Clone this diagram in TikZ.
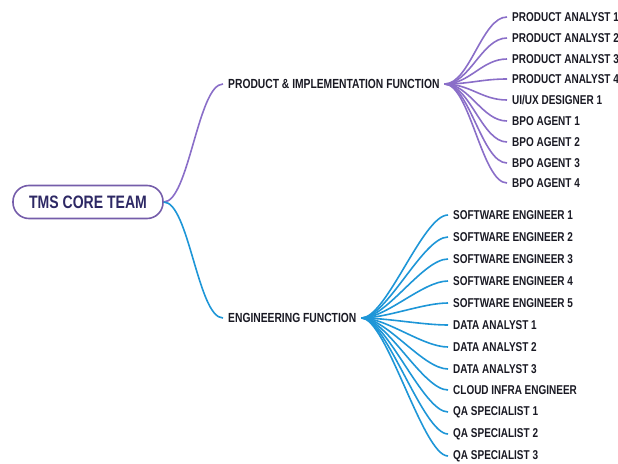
\documentclass[tikz,border=0pt]{standalone}
\usepackage{fontspec}
\setmainfont[FakeStretch=0.78]{Liberation Sans}
\usetikzlibrary{arrows}
\definecolor{lila}{RGB}{138,110,200}
\definecolor{azzurro}{RGB}{30,150,215}
\definecolor{inchiostro}{RGB}{25,25,35}
\definecolor{notte}{RGB}{45,40,100}

\begin{document}
\begin{tikzpicture}[x=1pt,y=-1pt]
\tikzstyle{radice} = [draw=lila!85!black, line width=1.6pt, rounded corners=16pt, minimum width=150pt, minimum height=33pt, text=notte, font=\bfseries\fontsize{18}{20}\selectfont]
\tikzstyle{voce} = [anchor=west, inner xsep=5pt, inner ysep=1pt, text=inchiostro, font=\bfseries\fontsize{12.8}{14}\selectfont]
\tikzstyle{ramo} = [line width=1.6pt, to path={.. controls +(25,0) and +(-25,0) .. (\tikztotarget)}]
\useasboundingbox (0,0) rectangle (618,463);
\node[radice] (r) at (88,202) {TMS CORE TEAM};
\node[voce, font=\bfseries\fontsize{13.2}{14}\selectfont] (f1) at (223,84) {PRODUCT \& IMPLEMENTATION FUNCTION};
\node[voce, font=\bfseries\fontsize{13.2}{14}\selectfont] (f2) at (223,318) {ENGINEERING FUNCTION};
% prodotto
\node[voce] (p1) at (507,17) {PRODUCT ANALYST 1};
\node[voce] (p2) at (507,38) {PRODUCT ANALYST 2};
\node[voce] (p3) at (507,59) {PRODUCT ANALYST 3};
\node[voce] (p4) at (507,79) {PRODUCT ANALYST 4};
\node[voce] (p5) at (507,100) {UI/UX DESIGNER 1};
\node[voce] (p6) at (507,121) {BPO AGENT 1};
\node[voce] (p7) at (507,142) {BPO AGENT 2};
\node[voce] (p8) at (507,163) {BPO AGENT 3};
\node[voce] (p9) at (507,183) {BPO AGENT 4};
% ingegneria
\node[voce] (e1) at (448,215) {SOFTWARE ENGINEER 1};
\node[voce] (e2) at (448,237) {SOFTWARE ENGINEER 2};
\node[voce] (e3) at (448,259) {SOFTWARE ENGINEER 3};
\node[voce] (e4) at (448,281) {SOFTWARE ENGINEER 4};
\node[voce] (e5) at (448,303) {SOFTWARE ENGINEER 5};
\node[voce] (e6) at (448,325) {DATA ANALYST 1};
\node[voce] (e7) at (448,347) {DATA ANALYST 2};
\node[voce] (e8) at (448,369) {DATA ANALYST 3};
\node[voce] (e9) at (448,390) {CLOUD INFRA ENGINEER};
\node[voce] (e10) at (448,412) {QA SPECIALIST 1};
\node[voce] (e11) at (448,434) {QA SPECIALIST 2};
\node[voce] (e12) at (448,456) {QA SPECIALIST 3};
\draw[ramo, draw=lila] (r.east) to (f1.west);
\draw[ramo, draw=azzurro] (r.east) to (f2.west);
\draw[ramo, draw=lila] (f1.east) to (p1.west);
\draw[ramo, draw=lila] (f1.east) to (p2.west);
\draw[ramo, draw=lila] (f1.east) to (p3.west);
\draw[ramo, draw=lila] (f1.east) to (p4.west);
\draw[ramo, draw=lila] (f1.east) to (p5.west);
\draw[ramo, draw=lila] (f1.east) to (p6.west);
\draw[ramo, draw=lila] (f1.east) to (p7.west);
\draw[ramo, draw=lila] (f1.east) to (p8.west);
\draw[ramo, draw=lila] (f1.east) to (p9.west);
\draw[ramo, draw=azzurro] (f2.east) to (e1.west);
\draw[ramo, draw=azzurro] (f2.east) to (e2.west);
\draw[ramo, draw=azzurro] (f2.east) to (e3.west);
\draw[ramo, draw=azzurro] (f2.east) to (e4.west);
\draw[ramo, draw=azzurro] (f2.east) to (e5.west);
\draw[ramo, draw=azzurro] (f2.east) to (e6.west);
\draw[ramo, draw=azzurro] (f2.east) to (e7.west);
\draw[ramo, draw=azzurro] (f2.east) to (e8.west);
\draw[ramo, draw=azzurro] (f2.east) to (e9.west);
\draw[ramo, draw=azzurro] (f2.east) to (e10.west);
\draw[ramo, draw=azzurro] (f2.east) to (e11.west);
\draw[ramo, draw=azzurro] (f2.east) to (e12.west);
\end{tikzpicture}
\end{document}
